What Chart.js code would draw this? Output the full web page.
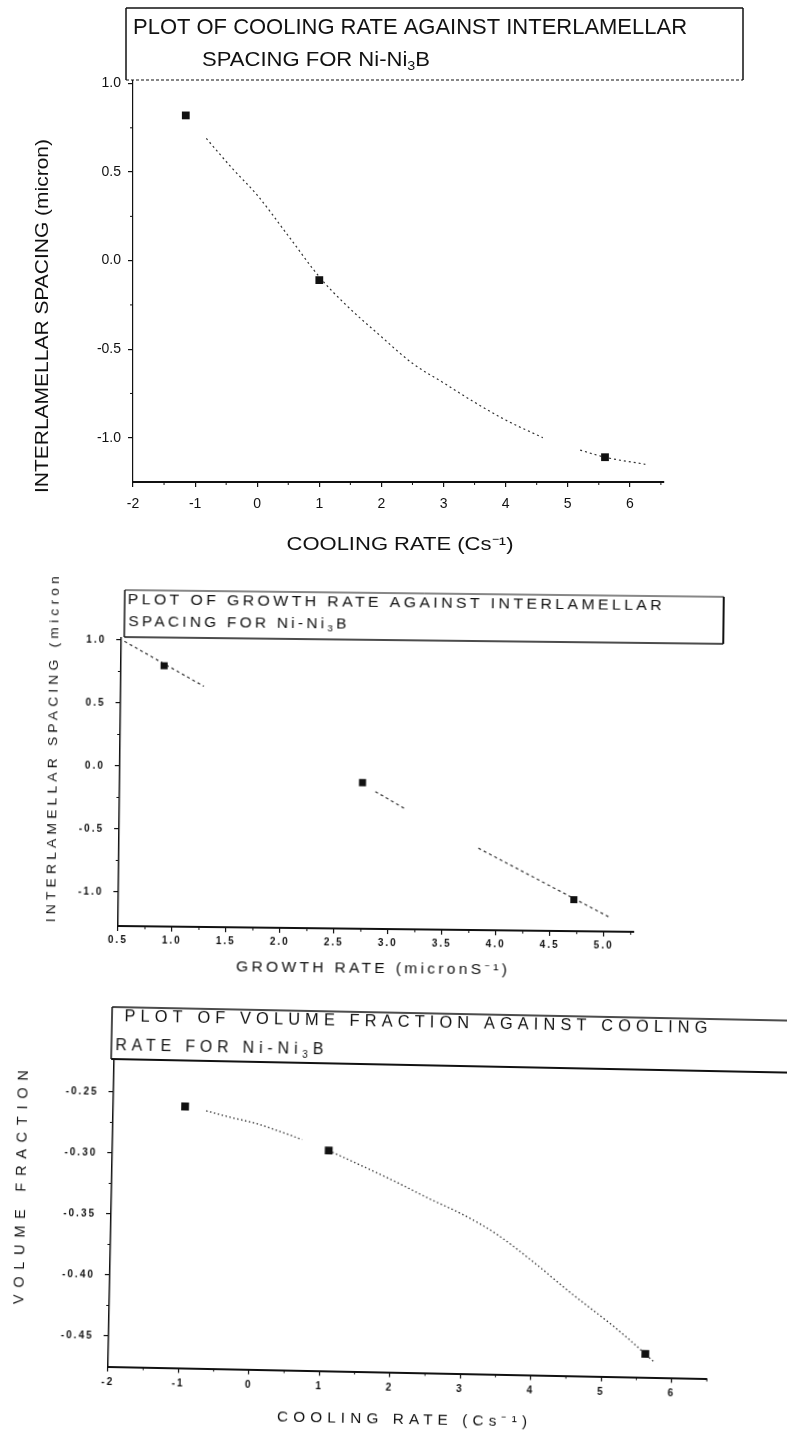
<!DOCTYPE html>
<html>
<head>
<meta charset="utf-8">
<script src="https://cdn.jsdelivr.net/npm/chart.js@4.4.1/dist/chart.umd.min.js"></script>
<style>
  html, body { margin: 0; padding: 0; background: #fff; }
  body { width: 787px; height: 1432px; position: relative; overflow: hidden; }
  canvas { position: absolute; left: 0; }
  #c1 { top: 0; }
  #c2 { top: 560px; transform-origin: 118px 366px; transform: rotate(0.65deg); }
  #c3 { top: 980px; transform-origin: 108px 386px; transform: rotate(1.15deg); }
</style>
</head>
<body>
<canvas id="c1" width="787" height="560"></canvas>
<canvas id="c2" width="787" height="420"></canvas>
<canvas id="c3" width="787" height="452"></canvas>
<script>
// cooling rate vs interlamellar spacing
const coolX = [-1.15, 1.0, 5.6];
const coolY = [0.82, -0.11, -1.11];
const coolFitX = [-0.82, -0.4, 0, 0.5, 1.02, 1.4, 2.0, 2.5, 3.0, 3.5, 4.0, 4.6, 4.9, 5.2, 5.6, 6.25];
const coolFitY = [0.69, 0.52, 0.37, 0.14, -0.10, -0.24, -0.43, -0.58, -0.69, -0.80, -0.90, -1.0, null, -1.07, -1.11, -1.15];
const coolTicksX = [-2, -1, 0, 1, 2, 3, 4, 5, 6];
const coolTicksY = [-1.0, -0.5, 0.0, 0.5, 1.0];
const coolMinorX = [-1.5, -0.5, 0.5, 1.5, 2.5, 3.5, 4.5, 5.5, 6.5];
const coolMinorY = [0.75, 0.25, -0.25, -0.75];

// growth rate vs interlamellar spacing
const growX = [0.9, 2.75, 4.72];
const growY = [0.80, -0.11, -1.02];
const growFitX = [0.53, 1.27, 2.0, 2.87, 3.16, 3.5, 3.83, 5.06];
const growFitY = [0.99, 0.64, null, -0.18, -0.32, null, -0.62, -1.16];
const growTicksX = [0.5, 1.0, 1.5, 2.0, 2.5, 3.0, 3.5, 4.0, 4.5, 5.0];
const growTicksY = [-1.0, -0.5, 0.0, 0.5, 1.0];
const growMinorX = [0.75, 1.25, 1.75, 2.25, 2.75, 3.25, 3.75, 4.25, 4.75, 5.25];
const growMinorY = [0.75, 0.25, -0.25, -0.75];

// cooling rate vs volume fraction
const volX = [-0.98, 1.07, 5.62];
const volY = [-0.2607, -0.2944, -0.4559];
const volFitX = [-0.68, -0.32, 0.04, 0.69, 0.88, 1.07, 1.99, 2.51, 3.01, 3.46, 4.02, 4.52, 5.16, 5.37, 5.76];
const volFitY = [-0.2639, -0.269, -0.2736, -0.2858, null, -0.2944, -0.3179, -0.3322, -0.3452, -0.3596, -0.383, -0.406, -0.4337, -0.4435, -0.463];
const volTicksX = [-2, -1, 0, 1, 2, 3, 4, 5, 6];
const volTicksY = [-0.45, -0.40, -0.35, -0.30, -0.25];
const volMinorX = [-1.5, -0.5, 0.5, 1.5, 2.5, 3.5, 4.5, 5.5, 6.5];
const volMinorY = [-0.275, -0.325, -0.375, -0.425];

const family = '"Liberation Sans", Arial, sans-serif';

function pts(xs, ys) {
  return xs.map((x, i) => ({ x: x, y: ys[i] }));
}

// text with optional subscript after "_", stretched to a given length
function drawLabel(ctx, text, cx, cy, length, size, spacing, vertical) {
  const font = size + 'px ' + family;
  const subFont = Math.round(size * 0.65) + 'px ' + family;
  const runs = [];
  text.split('_').forEach((p, i) => {
    if (i > 0) { runs.push({ t: p[0], sub: true }); p = p.slice(1); }
    if (p) runs.push({ t: p, sub: false });
  });
  ctx.save();
  ctx.fillStyle = '#111';
  ctx.textBaseline = 'middle';
  ctx.textAlign = 'left';
  ctx.letterSpacing = spacing + 'px';
  let total = 0;
  runs.forEach((r) => {
    ctx.font = r.sub ? subFont : font;
    r.w = ctx.measureText(r.t).width;
    total += r.w;
  });
  total -= spacing;
  ctx.translate(cx, cy);
  if (vertical) ctx.rotate(-Math.PI / 2);
  ctx.scale(length / total, 1);
  let x = -total / 2;
  runs.forEach((r) => {
    ctx.font = r.sub ? subFont : font;
    ctx.fillText(r.t, x, r.sub ? size * 0.3 : 0);
    x += r.w;
  });
  ctx.restore();
}

function framePlugin(spec) {
  return {
    id: 'frame',
    beforeDraw(chart) {
      chart.ctx.letterSpacing = spec.tickSpacing + 'px';
    },
    afterDraw(chart) {
      const ctx = chart.ctx;
      const sx = chart.scales.x;
      const sy = chart.scales.y;
      ctx.save();
      ctx.letterSpacing = '0px';
      // small minor ticks
      ctx.strokeStyle = '#111';
      ctx.lineWidth = 1;
      ctx.beginPath();
      spec.minorX.forEach((v) => {
        const p = sx.getPixelForValue(v);
        ctx.moveTo(p, sx.top);
        ctx.lineTo(p, sx.top + 3);
      });
      spec.minorY.forEach((v) => {
        const p = sy.getPixelForValue(v);
        ctx.moveTo(sy.right, p);
        ctx.lineTo(sy.right - 3, p);
      });
      ctx.stroke();
      const b = spec.box;
      ctx.fillStyle = '#fff';
      ctx.fillRect(b[0], b[1], b[2] - b[0], b[3] - b[1]);
      spec.lines.forEach((l) => {
        ctx.beginPath();
        ctx.lineWidth = l[4];
        ctx.setLineDash(l[5] || []);
        ctx.moveTo(l[0], l[1]);
        ctx.lineTo(l[2], l[3]);
        ctx.stroke();
      });
      ctx.restore();
      spec.texts.forEach((t) => drawLabel(ctx, t[0], t[1], t[2], t[3], t[4], t[5], t[6]));
    }
  };
}

function makeAxis(o) {
  return {
    type: 'linear',
    min: o.min,
    max: o.max,
    afterBuildTicks: (s) => { s.ticks = o.ticks.map((v) => ({ value: v })); },
    afterFit: (s) => { if (o.horizontal) s.height = o.size; else s.width = o.size; },
    ticks: {
      color: '#111', font: o.font, padding: o.pad, autoSkip: false, maxRotation: 0,
      callback: (v) => v.toFixed(o.digits)
    },
    grid: { drawOnChartArea: false, drawTicks: true, tickLength: 5, color: '#111', lineWidth: 1.2 },
    border: { display: true, color: '#111', width: o.line },
    title: { display: false }
  };
}

function sets(px, py, fx, fy, r, dash, lw, smooth) {
  return [
    { data: pts(px, py), pointStyle: 'rect', pointRadius: r, pointBackgroundColor: '#111', pointBorderWidth: 0, showLine: false },
    { data: pts(fx, fy), showLine: true, pointRadius: 0, borderColor: '#333', borderWidth: lw, borderDash: dash,
      spanGaps: false, cubicInterpolationMode: smooth ? 'monotone' : 'default', fill: false }
  ];
}

function makeChart(id, datasets, pad, x, y, plugin) {
  return new Chart(document.getElementById(id), {
    type: 'scatter',
    data: { datasets: datasets },
    options: {
      responsive: false,
      animation: false,
      devicePixelRatio: 1,
      layout: { padding: pad },
      plugins: { legend: { display: false }, tooltip: { enabled: false } },
      scales: { x: x, y: y }
    },
    plugins: [plugin]
  });
}

makeChart('c1',
  sets(coolX, coolY, coolFitX, coolFitY, 5.5, [2, 3], 1.2, true),
  { top: 80, right: 123, left: 0, bottom: 0 },
  makeAxis({ min: -2, max: 6.55, ticks: coolTicksX, digits: 0, font: { family: family, size: 14 }, pad: 9, size: 78, horizontal: true, line: 2 }),
  makeAxis({ min: -1.25, max: 1.02, ticks: coolTicksY, digits: 1, font: { family: family, size: 14 }, pad: 7, size: 133, line: 1.2 }),
  framePlugin({
    tickSpacing: 0,
    minorX: coolMinorX,
    minorY: coolMinorY,
    box: [126, 8, 743, 80],
    lines: [
      [126, 8, 743, 8, 1.5], [126, 8, 126, 80, 1.5], [743, 8, 743, 80, 1.5], [126, 80, 743, 80, 1.2, [3, 2]]
    ],
    texts: [
      ['PLOT OF COOLING RATE AGAINST INTERLAMELLAR', 410, 28, 554, 22, 0, false],
      ['SPACING FOR Ni-Ni_3B', 316, 60, 228, 20, 0, false],
      ['COOLING RATE (Cs\u207B\u00B9)', 400, 545, 227, 18, 0, false],
      ['INTERLAMELLAR SPACING (micron)', 43, 316, 354, 18, 0, true]
    ]
  }));

makeChart('c2',
  sets(growX, growY, growFitX, growFitY, 5, [3, 3], 1.2, false),
  { top: 77.5, right: 153, left: 0, bottom: 0 },
  makeAxis({ min: 0.5, max: 5.28, ticks: growTicksX, digits: 1, font: { family: family, size: 10, weight: 'bold' }, pad: 3, size: 54, horizontal: true, line: 2 }),
  makeAxis({ min: -1.27, max: 1.02, ticks: growTicksY, digits: 1, font: { family: family, size: 10, weight: 'bold' }, pad: 10, size: 118, line: 1.5 }),
  framePlugin({
    tickSpacing: 2,
    minorX: growMinorX,
    minorY: growMinorY,
    box: [121, 30, 720, 77],
    lines: [
      [121, 30, 720, 30, 1], [121, 30, 121, 77, 1.5], [720, 30, 720, 77, 2], [121, 77, 720, 77, 1.5]
    ],
    texts: [
      ['PLOT OF GROWTH RATE AGAINST INTERLAMELLAR', 391, 40, 534, 14, 3, false],
      ['SPACING FOR Ni-Ni_3B', 234, 62, 218, 14, 3, false],
      ['GROWTH RATE (micronS\u207B\u00B9)', 372, 406, 271, 14, 3, false],
      ['INTERLAMELLAR SPACING (micron', 51, 190, 346, 13, 4, true]
    ]
  }));

makeChart('c3',
  sets(volX, volY, volFitX, volFitY, 5.5, [1.5, 2.5], 1.3, true),
  { top: 79, right: 80, left: 0, bottom: 0 },
  makeAxis({ min: -2, max: 6.5, ticks: volTicksX, digits: 0, font: { family: family, size: 10, weight: 'bold' }, pad: 4.5, size: 65.5, horizontal: true, line: 2 }),
  makeAxis({ min: -0.475, max: -0.223, ticks: volTicksY, digits: 2, font: { family: family, size: 10, weight: 'bold' }, pad: 10, size: 108, line: 1.5 }),
  framePlugin({
    tickSpacing: 2,
    minorX: volMinorX,
    minorY: volMinorY,
    box: [105, 27, 800, 79],
    lines: [
      [105, 27, 800, 27, 1.5], [105, 27, 105, 79, 1.5], [105, 79, 800, 79, 2]
    ],
    texts: [
      ['PLOT OF VOLUME FRACTION AGAINST COOLING', 409, 37, 583, 16, 5, false],
      ['RATE FOR Ni-Ni_3B', 213, 66, 208, 16, 5, false],
      ['COOLING RATE (Cs\u207B\u00B9)', 403, 434, 250, 15, 5, false],
      ['VOLUME FRACTION', 18, 209, 234, 15, 7, true]
    ]
  }));
</script>
</body>
</html>
